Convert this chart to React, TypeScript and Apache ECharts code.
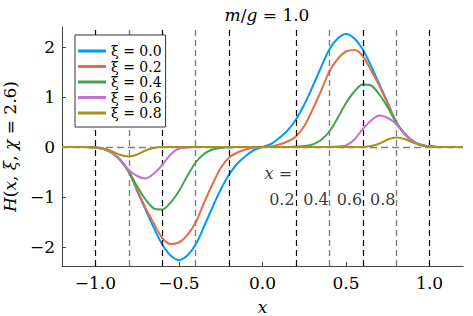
import React, { useEffect, useRef } from "react";
import * as echarts from "echarts";

const xs = [
  -1.2, -1.15, -1.1, -1.05, -1.0, -0.95, -0.9, -0.85, -0.8, -0.75, -0.7, -0.65, -0.6, -0.55, -0.5, -0.45, -0.4, -0.35, -0.3, -0.25, -0.2, -0.15, -0.1, -0.05,
  0,
  0.05, 0.1, 0.15, 0.2, 0.25, 0.3, 0.35, 0.4, 0.45, 0.5, 0.55, 0.6, 0.65, 0.7, 0.75, 0.8, 0.85, 0.9, 0.95, 1.0, 1.05, 1.1, 1.15, 1.2,
];

const xi00 = [
  0, 0, 0, 0, -0.01, -0.04, -0.12, -0.27, -0.5, -0.88, -1.25, -1.62, -1.95, -2.17, -2.26, -2.17, -1.95, -1.59, -1.21, -0.85, -0.55, -0.33, -0.18, -0.06,
  0,
  0.06, 0.18, 0.33, 0.55, 0.85, 1.21, 1.59, 1.95, 2.17, 2.26, 2.17, 1.95, 1.62, 1.25, 0.88, 0.5, 0.27, 0.12, 0.04, 0.01, 0, 0, 0, 0,
];
const xi02 = [
  0, 0, 0, 0, -0.01, -0.04, -0.12, -0.27, -0.5, -0.86, -1.22, -1.53, -1.82, -1.94, -1.91, -1.76, -1.51, -1.12, -0.75, -0.42, -0.21, -0.11, -0.05, -0.01,
  0,
  0.01, 0.05, 0.11, 0.21, 0.42, 0.75, 1.12, 1.51, 1.76, 1.91, 1.94, 1.82, 1.53, 1.22, 0.86, 0.5, 0.27, 0.12, 0.04, 0.01, 0, 0, 0, 0,
];
const xi04 = [
  0, 0, 0, 0, -0.01, -0.04, -0.11, -0.26, -0.49, -0.79, -1.05, -1.23, -1.25, -1.11, -0.88, -0.58, -0.31, -0.14, -0.05, -0.02, -0.01, 0, 0, 0,
  0,
  0, 0, 0, 0.01, 0.02, 0.05, 0.14, 0.31, 0.58, 0.88, 1.11, 1.25, 1.23, 1.05, 0.79, 0.49, 0.26, 0.11, 0.04, 0.01, 0, 0, 0, 0,
];
const xi06 = [
  0, 0, 0, 0, -0.01, -0.04, -0.11, -0.26, -0.46, -0.58, -0.63, -0.53, -0.36, -0.15, -0.03, -0.01, 0, 0, 0, 0, 0, 0, 0, 0,
  0,
  0, 0, 0, 0, 0, 0, 0, 0, 0.01, 0.03, 0.15, 0.36, 0.53, 0.63, 0.58, 0.46, 0.26, 0.11, 0.04, 0.01, 0, 0, 0, 0,
];
const xi08 = [
  0, 0, 0, 0, -0.01, -0.03, -0.09, -0.16, -0.19, -0.15, -0.07, -0.02, 0, 0, 0, 0, 0, 0, 0, 0, 0, 0, 0, 0,
  0,
  0, 0, 0, 0, 0, 0, 0, 0, 0, 0, 0, 0, 0.02, 0.07, 0.15, 0.19, 0.16, 0.09, 0.03, 0.01, 0, 0, 0, 0,
];

const seriesNames = ["ξ = 0.0", "ξ = 0.2", "ξ = 0.4", "ξ = 0.6", "ξ = 0.8"];
const seriesValues = [xi00, xi02, xi04, xi06, xi08];
const colors = ["#009AFA", "#E36F47", "#3EA44E", "#C371D2", "#AC8E18"];

const blackLines = [-1.0, -0.6, -0.2, 0.2, 0.6, 1.0];
const grayLines = [-0.8, -0.4, 0.4, 0.8];
const xTicks = [-1.0, -0.5, 0, 0.5, 1.0];
const yTicks = [-2, -1, 0, 1, 2];

const annotX = [0.095, 0.116, 0.32, 0.52, 0.72];
const annotY = [-0.52, -1.04, -1.04, -1.04, -1.04];
const annotText = ["{i|x} =", "0.2", "0.4", "0.6", "0.8"];

const FONT = "DejaVu Serif";
const fmt = (v: number, d: number) => (v < 0 ? "\u2212" : "") + Math.abs(v).toFixed(d);
const italic = (size: number) => ({ fontFamily: FONT, fontSize: size, fontStyle: "italic", color: "#000" });

export default function App() {
  const ref = useRef<HTMLDivElement>(null);
  useEffect(() => {
    if (!ref.current) return;
    const chart = echarts.init(ref.current, undefined, { renderer: "svg" });
    const lineSeries = seriesValues.map((vals, i) => ({
      name: seriesNames[i],
      type: "line",
      data: xs.map((x, j) => [x, vals[j]]),
      showSymbol: false,
      smooth: 0.3,
      lineStyle: { color: colors[i], width: 2 },
      itemStyle: { color: colors[i] },
      z: 2 + i,
    }));
    chart.setOption({
      animation: false,
      backgroundColor: "#fff",
      title: {
        text: "{i|m}/{i|g} = 1.0",
        left: 262,
        textAlign: "center",
        top: 1,
        textStyle: {
          fontFamily: FONT,
          fontSize: 17,
          fontWeight: "normal",
          color: "#000",
          rich: { i: italic(17) },
        },
      },
      legend: {
        data: seriesNames,
        orient: "vertical",
        left: 75,
        top: 35,
        z: 100,
        padding: [9, 4, 7, 3],
        itemGap: 1.5,
        itemWidth: 28,
        itemHeight: 3,
        icon: "rect",
        borderColor: "#333",
        borderWidth: 1,
        backgroundColor: "#fff",
        textStyle: { fontFamily: FONT, fontSize: 14, color: "#000", lineHeight: 14 },
      },
      grid: { left: 62, right: 10, top: 27, bottom: 50, containLabel: false, outerBoundsMode: "none" },
      xAxis: {
        type: "value",
        min: -1.2,
        max: 1.2,
        name: "x",
        nameLocation: "middle",
        nameGap: 32,
        nameTextStyle: italic(17),
        axisLine: { show: true, onZero: false, lineStyle: { color: "#444", width: 1 } },
        axisTick: { show: true, inside: true, length: 4, customValues: xTicks, lineStyle: { color: "#444" } },
        axisLabel: {
          customValues: xTicks,
          formatter: (v: number) => fmt(v, 1),
          fontFamily: FONT,
          fontSize: 17,
          color: "#000",
          margin: 8,
        },
        splitLine: { show: false },
      },
      yAxis: {
        type: "value",
        min: -2.38,
        max: 2.4,
        name: "{i|H}({i|x}, {i|ξ}, {i|χ} = 2.6)",
        nameLocation: "middle",
        nameGap: 44,
        nameRotate: 90,
        nameTextStyle: { fontFamily: FONT, fontSize: 17, color: "#000", rich: { i: italic(17) } },
        axisLine: { show: true, onZero: false, lineStyle: { color: "#444", width: 1 } },
        axisTick: { show: true, inside: true, length: 4, customValues: yTicks, lineStyle: { color: "#444" } },
        axisLabel: {
          customValues: yTicks,
          formatter: (v: number) => fmt(v, 0),
          fontFamily: FONT,
          fontSize: 17,
          color: "#000",
          margin: 7,
        },
        splitLine: { show: false },
      },
      series: [
        ...lineSeries,
        {
          name: "refs",
          type: "line",
          data: [],
          z: 10,
          silent: true,
          markLine: {
            silent: true,
            symbol: ["none", "none"],
            label: { show: false },
            animation: false,
            data: [
              ...blackLines.map((v) => ({ xAxis: v, lineStyle: { color: "#000", type: [6, 4], width: 1.2 } })),
              ...grayLines.map((v) => ({ xAxis: v, lineStyle: { color: "#7f7f7f", type: [6, 4], width: 1.4 } })),
              { yAxis: 0, lineStyle: { color: "#7f7f7f", type: [7, 4], width: 1.4 } },
            ],
          },
        },
        {
          name: "annot",
          type: "scatter",
          symbolSize: 0,
          silent: true,
          z: 11,
          data: annotX.map((x, i) => ({ value: [x, annotY[i]], name: annotText[i] })),
          label: {
            show: true,
            position: "inside",
            formatter: "{b}",
            fontFamily: FONT,
            fontSize: 16,
            color: "#000",
            rich: { i: italic(16) },
          },
        },
      ],
    });
    return () => chart.dispose();
  }, []);
  return <div ref={ref} style={{ width: 473, height: 316, position: "absolute", left: 0, top: 0 }} />;
}
